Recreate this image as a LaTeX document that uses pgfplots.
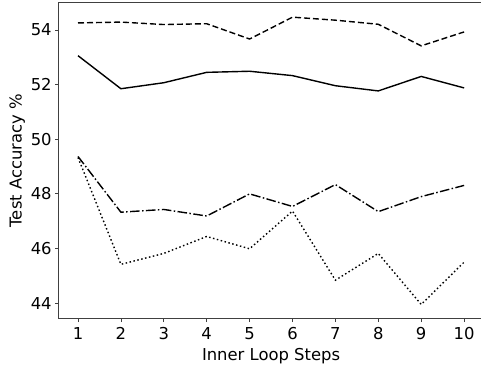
\documentclass[border=0pt]{standalone}
\usepackage{pgfplots}
\pgfplotsset{compat=1.18}
\usepackage{fontspec}
\setmainfont{DejaVu Sans}
\begin{document}
\begin{tikzpicture}
\begin{axis}[
  name=ax,
  scale only axis,
  width=424.7pt, height=316pt,
  xmin=0.55, xmax=10.45,
  ymin=43.43, ymax=55.0,
  xtick={1,...,10},
  ytick={44,46,48,50,52,54},
  tick align=outside,
  tick pos=left,
  major tick length=3.5pt,
  axis line style={black!75, line width=0.8pt},
  every tick/.style={black!75, line width=0.8pt},
  tick label style={font=\fontsize{16.4}{19}\selectfont},
  label style={font=\fontsize{16.4}{19}\selectfont},
  xticklabel style={yshift=-1.5pt},
  /pgf/number format/assume math mode=true,
  xlabel={Inner Loop Steps},
  ylabel={Test Accuracy \%},
  xlabel style={yshift=-2pt},
  ylabel style={yshift=-1pt},
  every axis plot/.append style={black, line width=1.4pt, line cap=butt, line join=miter},
]
\addplot[dashed, dash pattern=on 6pt off 3pt] coordinates {
(1,54.26) (2,54.29) (3,54.20) (4,54.23) (5,53.67) (6,54.47) (7,54.36) (8,54.21) (9,53.42) (10,53.93)};
\addplot[solid] coordinates {
(1,53.06) (2,51.85) (3,52.07) (4,52.45) (5,52.49) (6,52.33) (7,51.96) (8,51.77) (9,52.30) (10,51.88)};
\addplot[dash pattern=on 9.6pt off 2.4pt on 1.5pt off 2.4pt] coordinates {
(1,49.37) (2,47.33) (3,47.43) (4,47.19) (5,48.00) (6,47.54) (7,48.34) (8,47.35) (9,47.90) (10,48.31)};
\addplot[dash pattern=on 1.5pt off 2.5pt] coordinates {
(1,49.33) (2,45.42) (3,45.82) (4,46.44) (5,45.99) (6,47.37) (7,44.84) (8,45.82) (9,43.95) (10,45.50)};
\end{axis}
\pgfresetboundingbox
\path ([shift={(-58.7pt,-50.3pt)}]ax.south west) rectangle ([shift={(422.3pt,318.7pt)}]ax.south west);
\end{tikzpicture}
\end{document}
